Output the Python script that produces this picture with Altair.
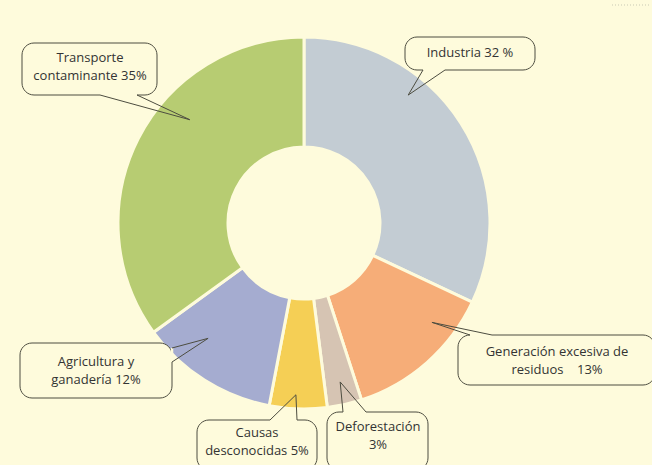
import math
import altair as alt
import pandas as pd

# ---- data ----
categories = ["Industria", "Generación excesiva de residuos", "Deforestación",
              "Causas desconocidas", "Agricultura y ganadería", "Transporte contaminante"]
values = [32, 13, 3, 5, 12, 35]
labels = ["Industria 32 %", "Generación excesiva de\nresiduos\u00a0\u00a0\u00a0 13%", "Deforestación\n3%",
          "Causas\ndesconocidas 5%", "Agricultura y\nganadería 12%", "Transporte\ncontaminante 35%"]

# ---- styles / layout ----
colors = ["#c3ccd3", "#f6ad78", "#d6c4b3", "#f5cf55", "#a5acd0", "#b7cc72"]
BG = "#fefbdc"
LINE = "#4d4d40"
CX, CY, R_OUT, R_IN = 304, 223, 186, 76
W, H = 652, 465
# callout boxes (x1, y1, x2, y2)
boxes = [(405, 37, 535, 70), (458, 335, 655, 385), (327, 412, 428, 470),
         (197, 420, 317, 470), (20, 343, 172, 398), (22, 43, 157, 95)]
# tail bases on box edges
bases = [((423, 70), (445, 70)), ((470, 335), (492, 335)), ((343, 412), (366, 412)),
         ((270, 420), (297, 420)), ((172, 348), (172, 362)), ((100, 95), (137, 95))]
# tail tip: fraction along slice angle, radius
tip_frac = [0.34, 0.27, 0.48, 0.55, 0.67, 0.62]
tip_rad = [165, 162, 163, 172, 150, 154]
# first-line positions of the callout texts
text_pos = [(470, 53), (557, 352), (378, 427), (257, 433), (96, 362), (90, 58)]

total = sum(values)
df = pd.DataFrame({"cat": categories, "value": values, "order": range(len(values))})

# tips derived from slice angles
tips = []
start = 0.0
for v, f, r in zip(values, tip_frac, tip_rad):
    ang = (start + f * v) / total * 2 * math.pi
    tips.append((CX + r * math.sin(ang), CY - r * math.cos(ang)))
    start += v

tail_rows, erase_rows, box_rows, text_rows = [], [], [], []
for i, lab in enumerate(labels):
    (b1, b2), tip = bases[i], tips[i]
    for k, p in enumerate([b1, tip, b2]):
        tail_rows.append({"label": lab, "idx": k, "x": p[0], "y": p[1]})
    erase_rows.append({"x": b1[0], "y": b1[1], "x2": b2[0], "y2": b2[1]})
    x1, y1, x2, y2 = boxes[i]
    box_rows.append({"x": x1, "y": y1, "x2": x2, "y2": y2})
    text_rows.append({"label": lab, "x": text_pos[i][0], "y": text_pos[i][1]})

X = lambda f: alt.X(f, scale=None, axis=None)
Y = lambda f: alt.Y(f, scale=None, axis=None)

arc = alt.Chart(df).mark_arc(innerRadius=R_IN, outerRadius=R_OUT, stroke=BG, strokeWidth=3).encode(
    theta=alt.Theta("value:Q", stack=True),
    color=alt.Color("cat:N", scale=alt.Scale(domain=categories, range=colors), legend=None),
    order=alt.Order("order:Q"),
    x=alt.value(CX), y=alt.value(CY),
)

box = alt.Chart(pd.DataFrame(box_rows)).mark_rect(
    cornerRadius=12, fill=BG, stroke=LINE, strokeWidth=1
).encode(x=X("x:Q"), x2="x2:Q", y=Y("y:Q"), y2="y2:Q")

erase = alt.Chart(pd.DataFrame(erase_rows)).mark_rule(color=BG, strokeWidth=2.5).encode(
    x=X("x:Q"), x2="x2:Q", y=Y("y:Q"), y2="y2:Q")

tail = alt.Chart(pd.DataFrame(tail_rows)).mark_line(color=LINE, strokeWidth=1).encode(
    x=X("x:Q"), y=Y("y:Q"), detail="label:N", order="idx:Q")

text = alt.Chart(pd.DataFrame(text_rows)).mark_text(
    font="Open Sans", fontSize=13, color="#333333", lineBreak="\n", lineHeight=18,
    align="center", baseline="middle"
).encode(x=X("x:Q"), y=Y("y:Q"), text="label:N")

dots = alt.Chart(pd.DataFrame({"a": [0]})).mark_rule(
    color="#c9c9b4", strokeDash=[1, 2], strokeWidth=1
).encode(x=alt.value(612), x2=alt.value(650), y=alt.value(5))

chart = alt.layer(arc, box, erase, tail, text, dots).properties(
    width=W, height=H, background=BG, padding=0, autosize=alt.AutoSizeParams(type="none")
).configure_view(stroke=None)

chart.save("out.html", embed_options={"renderer": "svg", "actions": False})
